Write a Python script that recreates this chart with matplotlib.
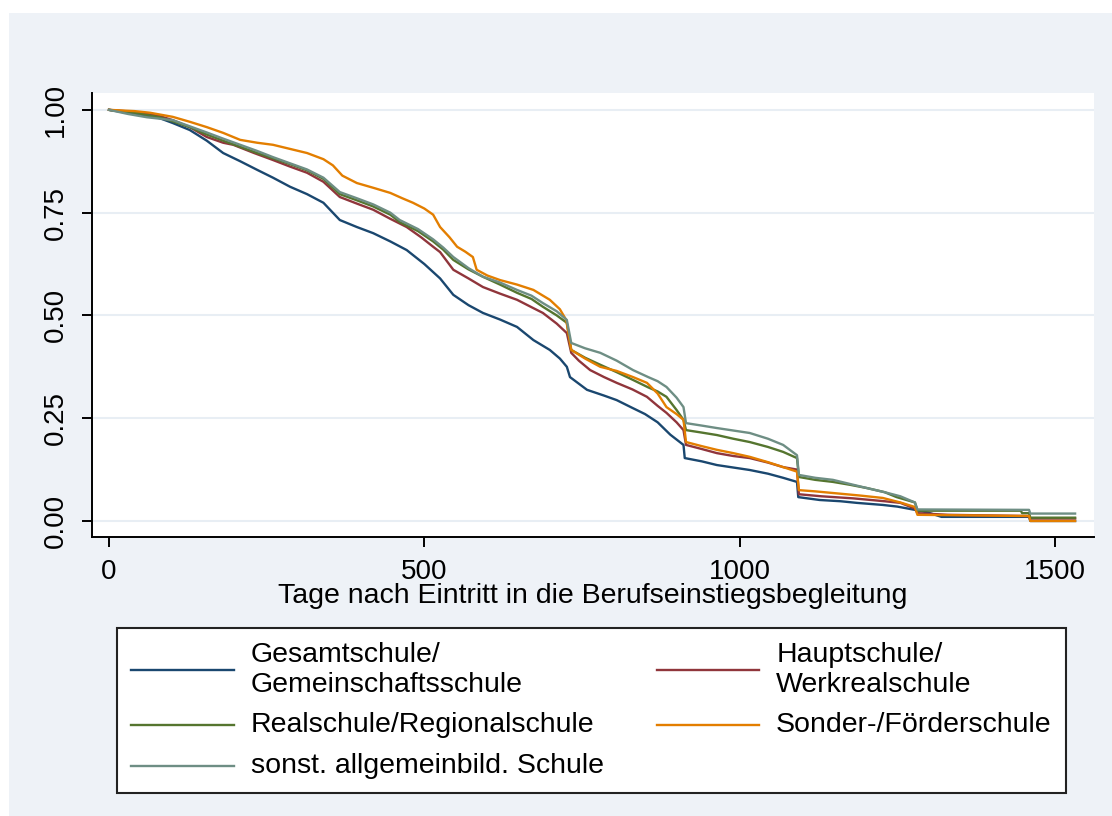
import matplotlib

matplotlib.use("Agg")
import matplotlib.pyplot as plt
from matplotlib.patches import Rectangle

# Kaplan-Meier curves (days, survival)
gesamt_t = [0, 40, 80, 101, 128, 155, 181, 208, 235, 260, 287, 314, 340, 366, 393, 419,
            446, 472, 500, 525, 546, 570, 593, 620, 647, 673, 699, 715, 726, 731, 758,
            785, 805, 830, 850, 870, 890, 911, 913, 940, 964, 990, 1016, 1045, 1069,
            1091, 1093, 1127, 1160, 1186, 1227, 1250, 1278, 1300, 1320, 1459, 1461, 1532]
gesamt_s = [1.0, 0.99, 0.98, 0.968, 0.951, 0.925, 0.895, 0.875, 0.854, 0.835, 0.813,
            0.795, 0.774, 0.732, 0.715, 0.70, 0.68, 0.659, 0.625, 0.59, 0.55, 0.525,
            0.506, 0.49, 0.472, 0.44, 0.416, 0.395, 0.375, 0.35, 0.319, 0.305, 0.294,
            0.275, 0.26, 0.24, 0.21, 0.185, 0.153, 0.145, 0.136, 0.13, 0.124, 0.115,
            0.105, 0.095, 0.058, 0.051, 0.048, 0.044, 0.039, 0.035, 0.027, 0.02, 0.01,
            0.01, 0.0, 0.0]

haupt_t = [0, 40, 80, 101, 128, 155, 181, 197, 230, 260, 287, 314, 340, 366, 393, 419,
           446, 472, 495, 514, 525, 546, 570, 593, 620, 647, 670, 688, 710, 726, 733,
           745, 763, 785, 805, 830, 853, 870, 884, 900, 911, 915, 940, 964, 990, 1016,
           1045, 1069, 1091, 1094, 1130, 1180, 1230, 1255, 1278, 1282, 1330, 1459, 1461,
           1532]
haupt_s = [1.0, 0.995, 0.985, 0.975, 0.958, 0.934, 0.92, 0.915, 0.895, 0.878, 0.862,
           0.847, 0.825, 0.788, 0.772, 0.757, 0.735, 0.715, 0.69, 0.667, 0.654, 0.611,
           0.59, 0.569, 0.553, 0.538, 0.52, 0.506, 0.48, 0.457, 0.409, 0.39, 0.367,
           0.35, 0.336, 0.32, 0.302, 0.28, 0.263, 0.24, 0.221, 0.185, 0.175, 0.165,
           0.158, 0.153, 0.142, 0.131, 0.125, 0.065, 0.06, 0.055, 0.048, 0.044, 0.03,
           0.019, 0.015, 0.012, 0.006, 0.006]

real_t = [0, 40, 80, 101, 128, 155, 181, 208, 235, 260, 287, 314, 340, 366, 393, 419,
          446, 461, 490, 514, 530, 546, 570, 593, 620, 647, 670, 688, 710, 726, 733, 755,
          779, 805, 831, 855, 870, 884, 900, 911, 915, 940, 964, 990, 1016, 1045, 1069,
          1091, 1094, 1120, 1148, 1175, 1202, 1230, 1249, 1278, 1282, 1446, 1448, 1459,
          1461, 1532]
real_s = [1.0, 0.993, 0.982, 0.972, 0.958, 0.94, 0.925, 0.91, 0.895, 0.882, 0.868, 0.853,
          0.832, 0.795, 0.78, 0.765, 0.745, 0.727, 0.705, 0.68, 0.66, 0.635, 0.612,
          0.594, 0.575, 0.555, 0.54, 0.521, 0.5, 0.482, 0.416, 0.397, 0.38, 0.362,
          0.343, 0.325, 0.315, 0.302, 0.27, 0.246, 0.221, 0.215, 0.209, 0.2, 0.192,
          0.18, 0.168, 0.153, 0.107, 0.1, 0.095, 0.088, 0.08, 0.07, 0.058, 0.045,
          0.025, 0.025, 0.019, 0.019, 0.008, 0.008]

sonder_t = [0, 40, 65, 101, 128, 155, 181, 208, 235, 260, 287, 314, 340, 355, 370, 393,
            420, 446, 465, 482, 500, 514, 525, 540, 552, 565, 577, 583, 600, 620, 647,
            673, 699, 715, 725, 733, 755, 779, 805, 831, 853, 870, 884, 900, 911, 915,
            940, 964, 990, 1016, 1045, 1069, 1091, 1094, 1120, 1148, 1190, 1227, 1255,
            1278, 1282, 1459, 1461, 1532]
sonder_s = [1.0, 0.997, 0.993, 0.983, 0.971, 0.958, 0.944, 0.927, 0.92, 0.915, 0.905,
            0.895, 0.88, 0.865, 0.84, 0.822, 0.81, 0.798, 0.785, 0.774, 0.76, 0.745,
            0.715, 0.69, 0.667, 0.655, 0.642, 0.611, 0.597, 0.586, 0.575, 0.562, 0.538,
            0.515, 0.489, 0.416, 0.395, 0.375, 0.365, 0.35, 0.336, 0.31, 0.277, 0.26,
            0.246, 0.192, 0.182, 0.173, 0.165, 0.156, 0.143, 0.131, 0.12, 0.075, 0.072,
            0.068, 0.062, 0.056, 0.045, 0.034, 0.015, 0.012, 0.0, 0.0]

sonst_t = [0, 30, 60, 101, 128, 155, 181, 208, 235, 260, 287, 314, 340, 366, 393, 419,
           446, 461, 490, 514, 530, 546, 570, 593, 620, 647, 670, 688, 710, 726, 733,
           755, 779, 805, 831, 855, 870, 884, 900, 911, 915, 940, 964, 990, 1016, 1045,
           1069, 1091, 1094, 1120, 1148, 1175, 1202, 1230, 1255, 1278, 1282, 1459, 1461,
           1532]
sonst_s = [1.0, 0.99, 0.982, 0.975, 0.96, 0.945, 0.93, 0.915, 0.9, 0.885, 0.87, 0.855,
           0.835, 0.8, 0.785, 0.77, 0.75, 0.732, 0.71, 0.685, 0.665, 0.642, 0.615, 0.594,
           0.58, 0.562, 0.548, 0.53, 0.51, 0.489, 0.433, 0.42, 0.409, 0.39, 0.367, 0.35,
           0.34, 0.326, 0.3, 0.277, 0.238, 0.232, 0.226, 0.22, 0.214, 0.2, 0.185, 0.16,
           0.112, 0.105, 0.1, 0.09, 0.08, 0.07, 0.06, 0.045, 0.028, 0.027, 0.018, 0.018]

labels = ["Gesamtschule/\nGemeinschaftsschule", "Hauptschule/\nWerkrealschule",
          "Realschule/Regionalschule", "Sonder-/Förderschule",
          "sonst. allgemeinbild. Schule"]
colors = ["#1a476f", "#90353b", "#55752f", "#e37e00", "#6e8e84"]
x_ticks = [0, 500, 1000, 1500]
y_ticks = [0.0, 0.25, 0.5, 0.75, 1.0]

plt.rcParams["font.family"] = ["Liberation Sans", "DejaVu Sans"]

fig = plt.figure(figsize=(11.12, 8.16), dpi=100, facecolor="white")
fig.patches.append(Rectangle((9 / 1112, 0), 1 - 9 / 1112, 1 - 13 / 816,
                             transform=fig.transFigure, facecolor="#eef2f7",
                             edgecolor="none", zorder=-10))
ax = fig.add_axes([92 / 1112, 1 - 537 / 816, (1094 - 92) / 1112, (537 - 93) / 816])
ax.set_facecolor("white")

series = [(gesamt_t, gesamt_s), (haupt_t, haupt_s), (real_t, real_s),
          (sonder_t, sonder_s), (sonst_t, sonst_s)]
lines = []
for (t, s), lab, col in zip(series, labels, colors):
    (ln,) = ax.plot(t, s, color=col, lw=1.7, label=lab)
    lines.append(ln)

ax.set_xlim(-27, 1562)
ax.set_ylim(-0.039, 1.041)
ax.set_xticks(x_ticks)
ax.set_yticks(y_ticks)
ax.set_yticklabels([f"{v:.2f}" for v in y_ticks], rotation=90, va="center")
ax.grid(axis="y", color="#e8eef4", lw=1.5)
ax.set_axisbelow(True)
for side in ("top", "right"):
    ax.spines[side].set_visible(False)
for side in ("left", "bottom"):
    ax.spines[side].set_linewidth(1.4)
ax.tick_params(axis="both", length=7.5, width=1.4, labelsize=20, color="black")
ax.tick_params(axis="y", pad=9)
ax.tick_params(axis="x", pad=8)
ax.set_xlabel("Tage nach Eintritt in die Berufseinstiegsbegleitung", fontsize=20.5,
              labelpad=-1)

order = [0, 2, 4, 1, 3]
leg = fig.legend([lines[i] for i in order], [labels[i] for i in order], ncol=2,
                 loc="upper left", mode="expand",
                 bbox_to_anchor=(117 / 1112, 0.03, (1066 - 117) / 1112, 1 - 628 / 816 - 0.03),
                 bbox_transform=fig.transFigure, borderaxespad=0, fontsize=20.5,
                 handlelength=3.6, handletextpad=0.6, labelspacing=0.5,
                 borderpad=0.5, fancybox=False, framealpha=1)
leg.get_frame().set_edgecolor("#222222")
leg.get_frame().set_linewidth(1.5)
for col in leg._legend_handle_box.get_children():
    for row in col.get_children():
        row.align = "center"

fig.savefig("out.png", dpi=100, facecolor=fig.get_facecolor())
